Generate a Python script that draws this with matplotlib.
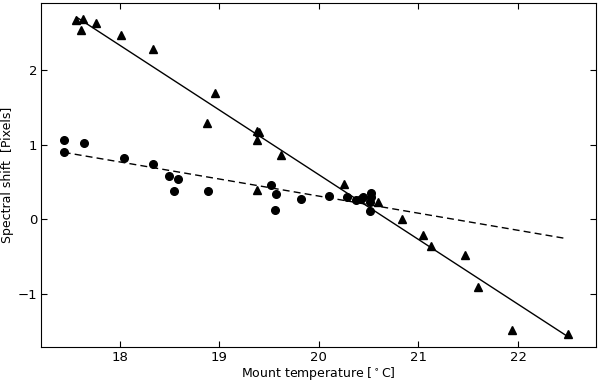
import matplotlib
matplotlib.use("Agg")
import matplotlib.pyplot as plt

# ===== data =====
tri_x = [17.56, 17.63, 17.61, 17.76, 18.01, 18.34, 18.96, 18.88, 19.38, 19.40,
         19.38, 19.62, 19.38, 20.25, 20.59, 20.84, 21.05, 21.13, 21.47, 21.60,
         21.94, 22.50]
tri_y = [2.67, 2.68, 2.54, 2.63, 2.47, 2.28, 1.70, 1.29, 1.18, 1.17,
         1.06, 0.86, 0.40, 0.48, 0.24, 0.01, -0.21, -0.35, -0.48, -0.91,
         -1.48, -1.54]

circ_x = [17.44, 17.44, 17.64, 18.04, 18.34, 18.50, 18.59, 18.55, 18.89, 19.52,
          19.57, 19.56, 19.82, 20.10, 20.28, 20.37, 20.42, 20.44, 20.52, 20.52,
          20.51, 20.51]
circ_y = [1.07, 0.91, 1.03, 0.83, 0.74, 0.58, 0.54, 0.38, 0.38, 0.46,
          0.34, 0.13, 0.28, 0.31, 0.30, 0.26, 0.27, 0.30, 0.36, 0.30,
          0.23, 0.12]

# fitted lines (end points)
fit_tri_x = [17.57, 22.50]
fit_tri_y = [2.71, -1.57]
fit_circ_x = [17.44, 22.48]
fit_circ_y = [0.90, -0.255]

fig = plt.figure(figsize=(6, 3.81), dpi=100)
ax = fig.add_axes([0.068, 0.089, 0.925, 0.903])

ax.plot(tri_x, tri_y, "^", color="black", markersize=5.5, linestyle="none")
ax.plot(circ_x, circ_y, "o", color="black", markersize=5.5, linestyle="none")
ax.plot(fit_tri_x, fit_tri_y, "-", color="black", linewidth=1)
ax.plot(fit_circ_x, fit_circ_y, "--", color="black", linewidth=1, dashes=(5, 3))

ax.set_xlim(17.21, 22.78)
ax.set_ylim(-1.71, 2.90)
ax.set_xticks([18, 19, 20, 21, 22])
ax.set_yticks([-1, 0, 1, 2])
ax.set_yticklabels(["\u22121", "0", "1", "2"])

ax.tick_params(direction="in", top=True, right=True, length=4, labelsize=9.5)
ax.tick_params(axis="x", pad=3)
ax.tick_params(axis="y", pad=2.5)
ax.set_xlabel(r"Mount temperature [$^\circ$C]", fontsize=9, labelpad=0.5)
ax.set_ylabel("Spectral shift  [Pixels]", fontsize=9, labelpad=3)

fig.savefig("out.png", dpi=100)
